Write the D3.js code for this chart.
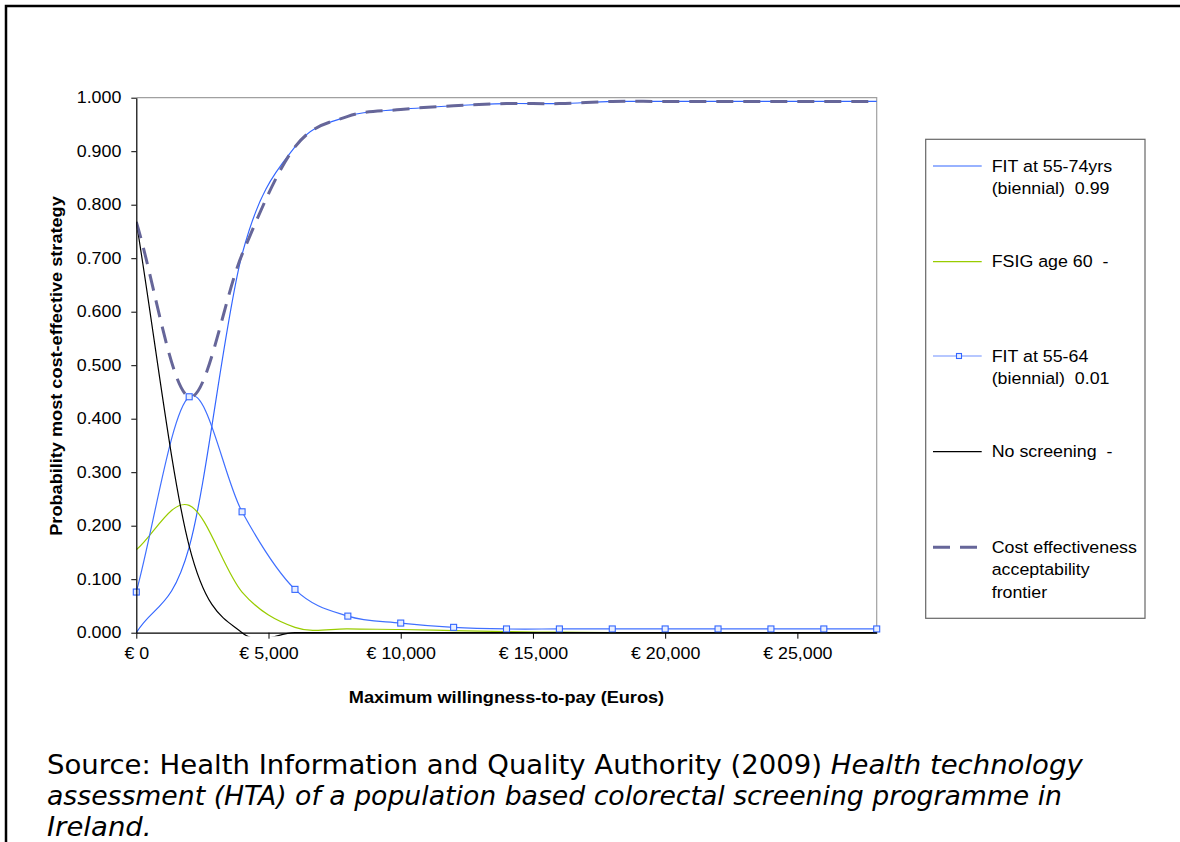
<!DOCTYPE html>
<html>
<head>
<meta charset="utf-8">
<script src="https://cdn.jsdelivr.net/npm/d3@7"></script>
<style>
body { margin: 0; background: #fff; }
svg text { font-family: "Liberation Sans", Arial, sans-serif; }
</style>
</head>
<body>
<div id="chart-area"></div>
<script>
// willingness-to-pay points (Euros)
const wtp = [0, 2000, 4000, 6000, 8000, 10000, 12000, 14000, 16000, 18000, 20000, 22000, 24000, 26000, 28000];

const fit5574 = [0.000, 0.160, 0.707, 0.908, 0.965, 0.978, 0.985, 0.989, 0.989, 0.993, 0.993, 0.993, 0.993, 0.993, 0.993];
const fsig60 = [0.155, 0.238, 0.076, 0.010, 0.007, 0.006, 0.004, 0.002, 0.001, 0.000, 0.000, 0.000, 0.000, 0.000, 0.000];
const fit5564 = [0.076, 0.441, 0.226, 0.081, 0.031, 0.018, 0.010, 0.007, 0.007, 0.007, 0.007, 0.007, 0.007, 0.007, 0.007];
const noScreening = [0.768, 0.162, 0.000, 0.000, 0.000, 0.000, 0.000, 0.000, 0.000, 0.000, 0.000, 0.000, 0.000, 0.000, 0.000];
const frontier = [0.768, 0.441, 0.707, 0.908, 0.965, 0.978, 0.985, 0.989, 0.989, 0.993, 0.993, 0.993, 0.993, 0.993, 0.993];

const xTicks = [0, 5000, 10000, 15000, 20000, 25000];
const yTicks = [0, 0.1, 0.2, 0.3, 0.4, 0.5, 0.6, 0.7, 0.8, 0.9, 1.0];

const legendLabels = [
    ["FIT at 55-74yrs", "(biennial)  0.99"],
    ["FSIG age 60  -"],
    ["FIT at 55-64", "(biennial)  0.01"],
    ["No screening  -"],
    ["Cost effectiveness", "acceptability", "frontier"]
];

const width = 1180, height = 842;
const plot = { left: 136.3, right: 876.7, top: 97.7, bottom: 632.7 };
const K = 1.08; // the original text is a little wider than Arial

const svg = d3.select("#chart-area")
    .append("svg")
    .attr("width", width)
    .attr("height", height);

// widen a text about its anchor x
function stretch(sel, ax, k = K) {
    sel.attr("transform", `translate(${ax},0) scale(${k},1) translate(${-ax},0)`);
}

// outer frame (runs off the page on the right and bottom)
svg.append("rect")
    .attr("x", 6).attr("y", 6)
    .attr("width", 1400).attr("height", 1200)
    .attr("fill", "none")
    .attr("stroke", "#000")
    .attr("stroke-width", 2.5);

const x = d3.scaleLinear().domain([0, 28000]).range([plot.left, plot.right]);
const y = d3.scaleLinear().domain([0, 1]).range([plot.bottom, plot.top]);

// Excel style smoothed line
function excelSmooth(context) {
    let pts;
    return {
        areaStart() {}, areaEnd() {},
        lineStart() { pts = []; },
        point(px, py) { pts.push([+px, +py]); },
        lineEnd() {
            const n = pts.length;
            if (!n) return;
            context.moveTo(pts[0][0], pts[0][1]);
            const tan = pts.map((p, i) => {
                if (n < 2) return [0, 0];
                if (i === 0) return [(pts[1][0] - p[0]) / 3, (pts[1][1] - p[1]) / 3];
                if (i === n - 1) return [(p[0] - pts[i - 1][0]) / 3, (p[1] - pts[i - 1][1]) / 3];
                return [(pts[i + 1][0] - pts[i - 1][0]) / 6, (pts[i + 1][1] - pts[i - 1][1]) / 6];
            });
            for (let i = 1; i < n; i++) {
                const a = pts[i - 1], b = pts[i];
                context.bezierCurveTo(a[0] + tan[i - 1][0], a[1] + tan[i - 1][1],
                    b[0] - tan[i][0], b[1] - tan[i][1], b[0], b[1]);
            }
        }
    };
}

const line = d3.line()
    .x((d, i) => x(wtp[i]))
    .y(d => y(d))
    .curve(excelSmooth);

svg.append("clipPath").attr("id", "plot-clip")
    .append("rect")
    .attr("x", plot.left).attr("y", plot.top - 4)
    .attr("width", plot.right - plot.left + 4)
    .attr("height", plot.bottom - plot.top + 7.5);

// plot border (grey top and right)
svg.append("path")
    .attr("d", `M${plot.left},${plot.top}H${plot.right}V${plot.bottom}`)
    .attr("fill", "none")
    .attr("stroke", "#a0a0a0")
    .attr("stroke-width", 1.2);

const series = [
    { values: fit5574, color: "#3366ff", width: 1.2 },
    { values: fsig60, color: "#99cc00", width: 1.2 },
    { values: fit5564, color: "#4070ff", width: 1.2, marker: true },
    { values: noScreening, color: "#000000", width: 1.2 },
    { values: frontier, color: "#666699", width: 3, dash: "17,10" }
];

const lines = svg.append("g").attr("clip-path", "url(#plot-clip)");

lines.selectAll("path")
    .data(series)
    .join("path")
    .attr("d", d => line(d.values))
    .attr("fill", "none")
    .attr("stroke", d => d.color)
    .attr("stroke-width", d => d.width)
    .attr("stroke-dasharray", d => d.dash || null);

// markers on FIT 55-64
svg.append("g")
    .selectAll("rect")
    .data(fit5564)
    .join("rect")
    .attr("x", (d, i) => x(wtp[i]) - 3)
    .attr("y", d => y(d) - 3)
    .attr("width", 6).attr("height", 6)
    .attr("fill", "#e8eeff")
    .attr("stroke", "#3366ff")
    .attr("stroke-width", 1.1);

// axes
const yAxis = svg.append("g")
    .attr("transform", `translate(${plot.left},0)`)
    .call(d3.axisLeft(y).tickValues(yTicks).tickFormat(d3.format(".3f"))
        .tickSize(5).tickSizeOuter(0).tickPadding(10));

const xAxis = svg.append("g")
    .attr("transform", `translate(0,${plot.bottom})`)
    .call(d3.axisBottom(x).tickValues(xTicks).tickFormat(d => "€ " + d3.format(",")(d))
        .tickSize(6).tickSizeOuter(0).tickPadding(9));

[yAxis, xAxis].forEach(a => {
    a.selectAll("text").attr("font-size", 16.5).attr("fill", "#000")
        .style("font-family", "'Liberation Sans', Arial, sans-serif");
    a.selectAll("line").attr("stroke", "#000");
    a.select(".domain").attr("stroke", "#000").attr("stroke-width", 1.2);
});
yAxis.selectAll("text").call(stretch, -15);
xAxis.selectAll("text").call(stretch, 0);

// axis titles
svg.append("text")
    .attr("x", (plot.left + plot.right) / 2)
    .attr("y", 703)
    .attr("text-anchor", "middle")
    .attr("font-size", 16.8)
    .attr("font-weight", "bold")
    .call(stretch, (plot.left + plot.right) / 2)
    .text("Maximum willingness-to-pay (Euros)");

svg.append("g")
    .attr("transform", "translate(62,366) rotate(-90)")
    .append("text")
    .attr("text-anchor", "middle")
    .attr("font-size", 16.8)
    .attr("font-weight", "bold")
    .call(stretch, 0)
    .text("Probability most cost-effective strategy");

// legend
const legend = svg.append("g");
legend.append("rect")
    .attr("x", 925.7).attr("y", 139.3)
    .attr("width", 219.3).attr("height", 479)
    .attr("fill", "#fff")
    .attr("stroke", "#666")
    .attr("stroke-width", 1.2);

const legendY = [166, 261.7, 356, 451.7, 547.3];
const items = legend.selectAll("g.item")
    .data(series)
    .join("g")
    .attr("class", "item")
    .attr("transform", (d, i) => `translate(0,${legendY[i]})`);

items.append("line")
    .attr("x1", 933).attr("x2", 981.7)
    .attr("stroke", d => d.marker ? "#6f8fff" : d.color)
    .attr("stroke-width", d => d.width)
    .attr("stroke-dasharray", d => d.dash || null);

items.filter(d => d.marker)
    .append("rect")
    .attr("x", 956.5).attr("y", -2.5)
    .attr("width", 5).attr("height", 5)
    .attr("fill", "#e8eeff")
    .attr("stroke", "#3366ff")
    .attr("stroke-width", 1.1);

items.append("text")
    .attr("font-size", 16.5)
    .style("white-space", "pre")
    .call(stretch, 991.7)
    .selectAll("tspan")
    .data((d, i) => legendLabels[i])
    .join("tspan")
    .attr("x", 991.7)
    .attr("y", (d, j) => 5.7 + j * 22.5)
    .text(d => d);

// source note
const noteFont = "'DejaVu Sans', Verdana, sans-serif";
const noteLines = [
    [["Source: Health Information and Quality Authority (2009) ", "normal"], ["Health technology", "italic"]],
    [["assessment (HTA) of a population based colorectal screening programme in", "italic"]],
    [["Ireland.", "italic"]]
];
const noteWidths = [1036, 1015, null];
const noteY = [774.5, 805.1, 835.7];
const noteText = svg.append("g").selectAll("text")
    .data(noteLines)
    .join("text")
    .attr("x", 47)
    .attr("y", (d, i) => noteY[i])
    .attr("font-size", 26.2)
    .style("font-family", noteFont)
    .style("white-space", "pre");
noteText.selectAll("tspan")
    .data(d => d)
    .join("tspan")
    .attr("font-style", d => d[1])
    .text(d => d[0]);
// widen each line to its width in the reference
let k0 = 1;
noteText.each(function (d, i) {
    const w = noteWidths[i];
    const k = w ? w / this.getComputedTextLength() : k0;
    if (i === 0) k0 = k;
    d3.select(this).call(stretch, 47, k);
});
</script>
</body>
</html>
